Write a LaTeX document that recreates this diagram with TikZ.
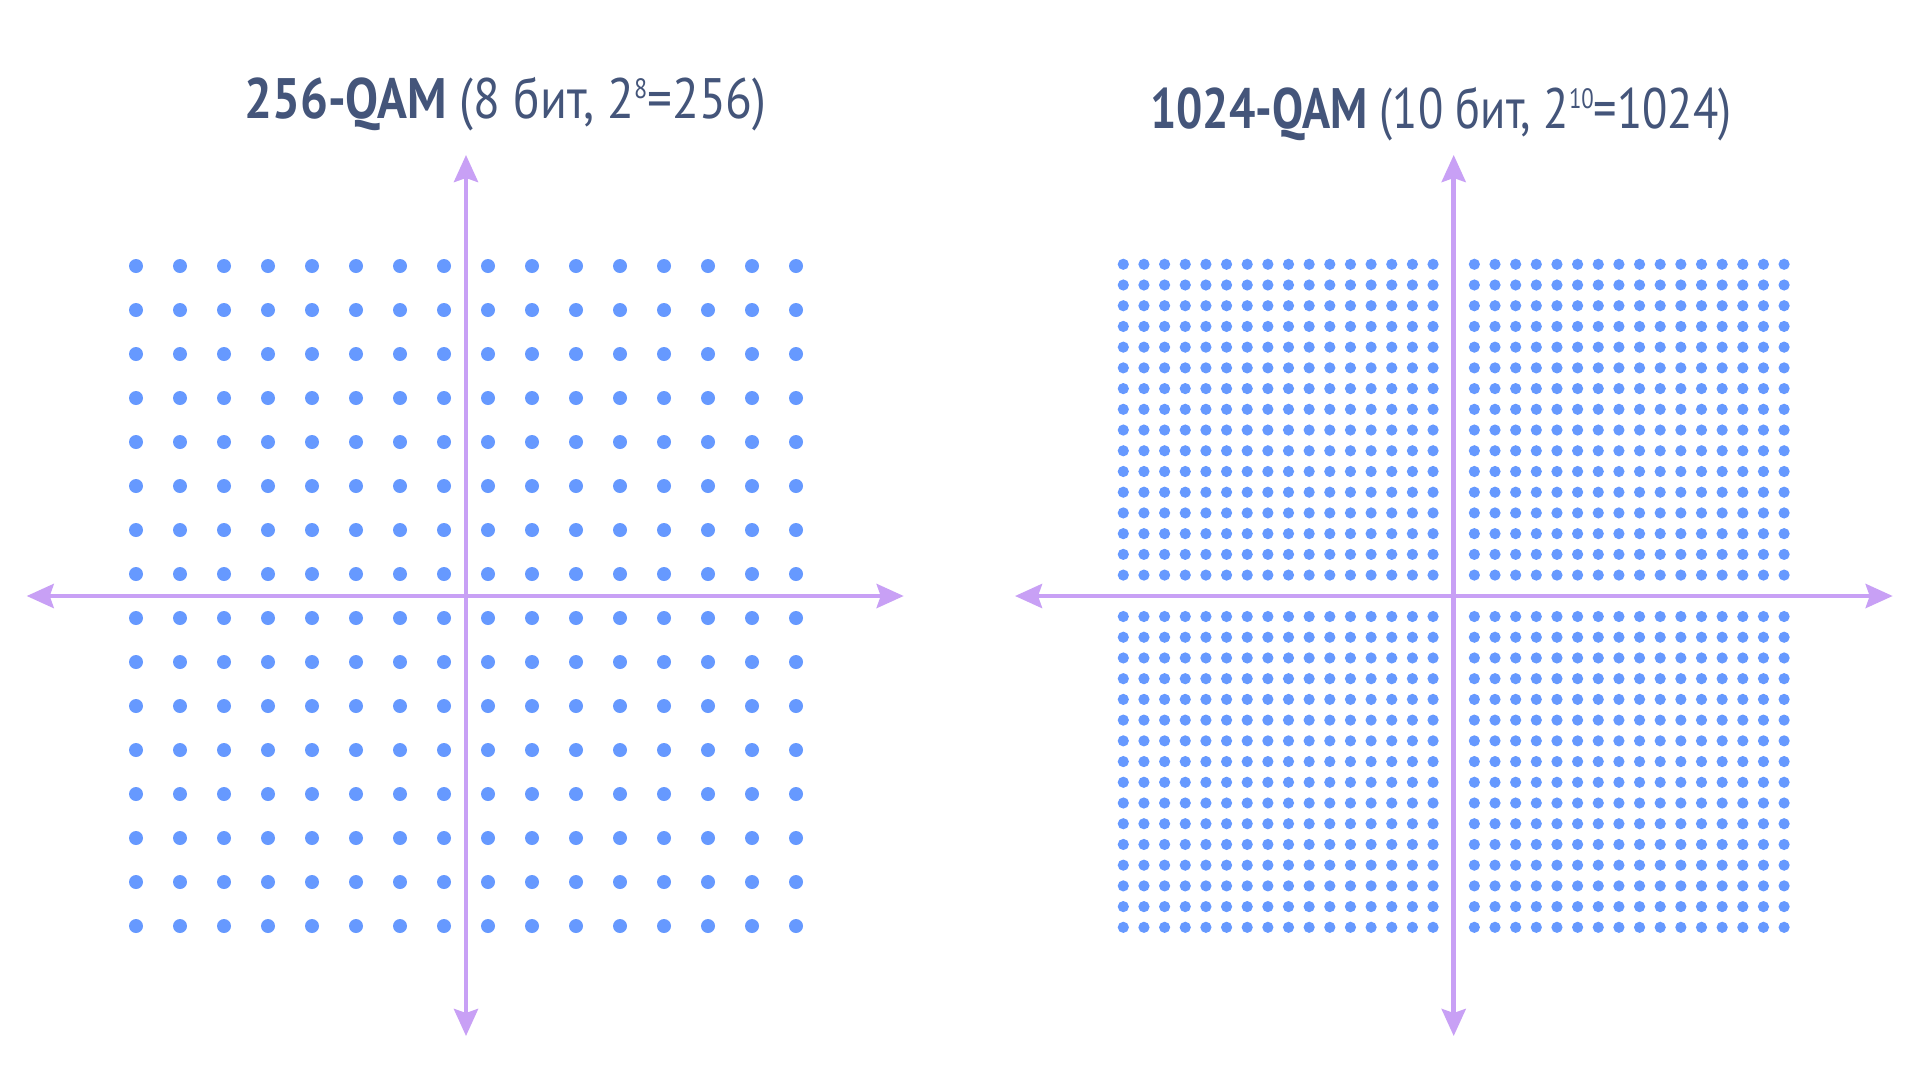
\documentclass[tikz,border=0pt]{standalone}
\usepackage{fontspec}
\setmainfont[FakeStretch=0.84]{PT Sans}
\usetikzlibrary{arrows.meta}
\definecolor{dotblue}{HTML}{6699FF}
\definecolor{axispurple}{HTML}{C8A0F5}
\definecolor{titlecol}{HTML}{44557A}
\newcommand{\supnum}[1]{\raisebox{20pt}{\fontsize{28}{28}\selectfont #1}}
\begin{document}
\begin{tikzpicture}[x=1pt,y=-1pt,
  axisline/.style={draw=axispurple, line width=4.5pt,
    {Stealth[length=27pt,width=24pt,inset=4pt]}-{Stealth[length=27pt,width=24pt,inset=4pt]}},
  titletext/.style={anchor=base west, inner sep=0pt, text=titlecol,
    font=\fontsize{57}{60}\selectfont},
  bigdot/.style={fill=dotblue},
  smalldot/.style={fill=dotblue}]
\useasboundingbox[fill=white] (0,0) rectangle (1920,1080);

% ---------- left panel: 256-QAM ----------
\foreach \i in {0,...,15}{
  \foreach \j in {0,...,15}{
    \fill[bigdot] ({136+44*\i},{266+44*\j}) circle (7pt);
  }
}
\coordinate (L1w) at (26.7,596);
\coordinate (L1e) at (903.7,596);
\coordinate (L1n) at (466,155);
\coordinate (L1s) at (466,1036);
\draw[axisline] (L1w) -- (L1e);
\draw[axisline] (L1n) -- (L1s);
\node[titletext] (t1) at (244,118) {\scalebox{1.03}[1]{\textbf{256-QAM} (8 бит, 2\supnum{8}=256)}};

% ---------- right panel: 1024-QAM ----------
\foreach \i in {-16,...,-1,1,2,...,16}{
  \foreach \j in {-16,...,-1,1,2,...,16}{
    \fill[smalldot] ({1453.7+20.65*\i},{595.8+20.72*\j}) circle (5.6pt);
  }
}
\coordinate (R1w) at (1015,596);
\coordinate (R1e) at (1892.7,596);
\coordinate (R1n) at (1453.7,155);
\coordinate (R1s) at (1453.7,1036);
\draw[axisline] (R1w) -- (R1e);
\draw[axisline] (R1n) -- (R1s);
\node[titletext] (t2) at (1150,128) {\scalebox{0.97}[1]{\textbf{1024-QAM} (10 бит, 2\supnum{10}=1024)}};
\end{tikzpicture}
\end{document}
